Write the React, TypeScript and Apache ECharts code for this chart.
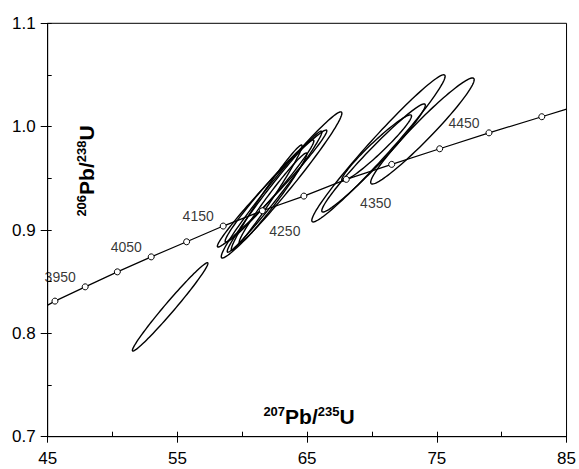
import React, { useEffect, useRef } from "react";
import * as echarts from "echarts";

// Concordia curve: ages (Ma) and marker positions
const concordiaAges = [3900, 3950, 4000, 4050, 4100, 4150, 4200, 4250, 4300, 4350, 4400, 4450, 4500];
const concordiaX = [45.56, 47.89, 50.37, 52.98, 55.71, 58.53, 61.55, 64.75, 68.02, 71.52, 75.22, 79.02, 83.09];
const concordiaY = [0.8312, 0.845, 0.8595, 0.874, 0.8886, 0.9038, 0.9186, 0.9328, 0.949, 0.9635, 0.9786, 0.994, 1.0096];
// curve continues to the plot edges
const curveStart = [45, 0.8273];
const curveEnd = [85, 1.017];

const labelledAges = [3950, 4050, 4150, 4250, 4350, 4450];
const labelBelow = [4250, 4350];

// Error ellipses: centre, half x-extent, half y-extent, correlation
const ellCX = [54.44, 63.03, 62.3, 62.49, 61.88, 62.37, 62.1, 70.5, 73.89, 70.12, 70.36];
const ellCY = [0.8256, 0.9436, 0.9401, 0.9371, 0.9313, 0.9309, 0.9377, 0.979, 0.9958, 0.9697, 0.9794];
const ellSX = [2.91, 4.65, 4.22, 3.65, 2.73, 2.61, 3.42, 5.14, 3.99, 3.99, 2.69];
const ellSY = [0.0427, 0.0707, 0.0566, 0.0586, 0.0509, 0.0436, 0.0494, 0.0712, 0.0513, 0.0523, 0.032];
const ellRho = [0.985, 0.981, 0.986, 0.986, 0.983, 0.981, 0.981, 0.979, 0.967, 0.976, 0.965];

const xMin = 45, xMax = 85, xStep = 10, xMinorStep = 5;
const yMin = 0.7, yMax = 1.1, yStep = 0.1, yMinorStep = 0.05;

const FONT = "'Liberation Sans', Arial, Helvetica, sans-serif";

export default function App() {
  const ref = useRef<HTMLDivElement>(null);

  useEffect(() => {
    if (!ref.current) return;
    const chart = echarts.init(ref.current, null, { renderer: "svg" });

    const lineData: any[] = [
      { value: curveStart, symbolSize: 0 },
      ...concordiaX.map((x, i) => ({ value: [x, concordiaY[i]], name: String(concordiaAges[i]) })),
      { value: curveEnd, symbolSize: 0 },
    ];

    const labelData = concordiaAges
      .map((a, i) => ({ a, i }))
      .filter((d) => labelledAges.includes(d.a))
      .map(({ a, i }) => {
        const below = labelBelow.includes(a);
        return {
          value: [concordiaX[i], concordiaY[i]],
          name: String(a),
          label: {
            offset: below ? (a === 4250 ? [-19, 35] : [-16, 39]) : [-25, -10],
          },
        };
      });

    const ellData = ellCX.map((cx, i) => [cx, ellCY[i], ellSX[i], ellSY[i], ellRho[i]]);

    const option: any = {
      animation: false,
      grid: {
        left: 47.7,
        right: 10.3,
        top: 23.3,
        bottom: 32.3,
        show: true,
        borderColor: "#000",
        borderWidth: 1,
      },
      xAxis: [
        {
          type: "value",
          min: xMin,
          max: xMax,
          interval: xStep,
          position: "bottom",
          axisLine: { show: true, lineStyle: { color: "#000", width: 1 } },
          axisTick: { show: true, inside: false, length: 6, lineStyle: { color: "#000" } },
          axisLabel: { color: "#000", fontSize: 17, fontFamily: FONT, margin: 13 },
          splitLine: { show: false },
        },
        {
          type: "value",
          min: xMin,
          max: xMax,
          interval: xMinorStep,
          position: "bottom",
          axisLine: { show: false },
          axisTick: { show: true, inside: true, length: 5, lineStyle: { color: "#000" } },
          axisLabel: { show: false },
          splitLine: { show: false },
        },
      ],
      yAxis: [
        {
          type: "value",
          min: yMin,
          max: yMax,
          interval: yStep,
          position: "left",
          axisLine: { show: true, lineStyle: { color: "#000", width: 1 } },
          axisTick: { show: true, inside: false, length: 7, lineStyle: { color: "#000" } },
          axisLabel: {
            color: "#000",
            fontSize: 17,
            fontFamily: FONT,
            margin: 12,
            formatter: (v: number) => v.toFixed(1),
          },
          splitLine: { show: false },
        },
        {
          type: "value",
          min: yMin,
          max: yMax,
          interval: yMinorStep,
          position: "left",
          axisLine: { show: false },
          axisTick: { show: true, inside: true, length: 4, lineStyle: { color: "#000" } },
          axisLabel: { show: false },
          splitLine: { show: false },
        },
      ],
      series: [
        {
          type: "custom",
          xAxisIndex: 0,
          yAxisIndex: 0,
          clip: true,
          silent: true,
          encode: { x: 0, y: 1 },
          data: ellData,
          renderItem: (params: any, api: any) => {
            const cx = api.value(0);
            const cy = api.value(1);
            const sx = api.value(2);
            const sy = api.value(3);
            const rho = api.value(4);
            const k = Math.sqrt(1 - rho * rho);
            const pts: number[][] = [];
            const N = 120;
            for (let j = 0; j < N; j++) {
              const t = (j / N) * Math.PI * 2;
              const x = cx + sx * Math.cos(t);
              const y = cy + sy * (rho * Math.cos(t) + k * Math.sin(t));
              pts.push(api.coord([x, y]));
            }
            return {
              type: "polygon",
              shape: { points: pts },
              style: { fill: "none", stroke: "#000", lineWidth: 1.4 },
            };
          },
        },
        {
          type: "line",
          xAxisIndex: 0,
          yAxisIndex: 0,
          data: lineData,
          symbol: "circle",
          symbolSize: 6,
          showAllSymbol: true,
          lineStyle: { color: "#000", width: 1.2 },
          itemStyle: { color: "#fff", borderColor: "#000", borderWidth: 1 },
          z: 3,
        },
        {
          type: "scatter",
          xAxisIndex: 0,
          yAxisIndex: 0,
          data: labelData,
          symbolSize: 0,
          silent: true,
          label: {
            show: true,
            position: "inside",
            formatter: (p: any) => p.name,
            color: "#000",
            textBorderWidth: 0,
            textBorderColor: "transparent",
            fontSize: 14,
            fontFamily: FONT,
          },
          z: 4,
        },
      ],
      graphic: [
        {
          type: "text",
          x: 86,
          y: 171,
          rotation: Math.PI / 2,
          style: {
            text: "{s|206}{m|Pb/}{s|238}{m|U}",
            align: "center",
            verticalAlign: "middle",
            fill: "#000",
            rich: {
              s: { fontSize: 13, fontWeight: "bold", fontFamily: FONT, verticalAlign: "top", lineHeight: 22, padding: [0, 0, 8, 0] },
              m: { fontSize: 21, fontWeight: "bold", fontFamily: FONT, lineHeight: 22 },
            },
          },
        },
        {
          type: "text",
          x: 309,
          y: 416,
          style: {
            text: "{s|207}{m|Pb/}{s|235}{m|U}",
            align: "center",
            verticalAlign: "middle",
            fill: "#000",
            rich: {
              s: { fontSize: 13, fontWeight: "bold", fontFamily: FONT, verticalAlign: "top", lineHeight: 22, padding: [0, 0, 8, 0] },
              m: { fontSize: 21, fontWeight: "bold", fontFamily: FONT, lineHeight: 22 },
            },
          },
        },
      ],
    };

    chart.setOption(option);
    return () => chart.dispose();
  }, []);

  return (
    <div
      ref={ref}
      style={{ position: "fixed", left: 0, top: 0, width: 579, height: 469, background: "#fff" }}
    />
  );
}
